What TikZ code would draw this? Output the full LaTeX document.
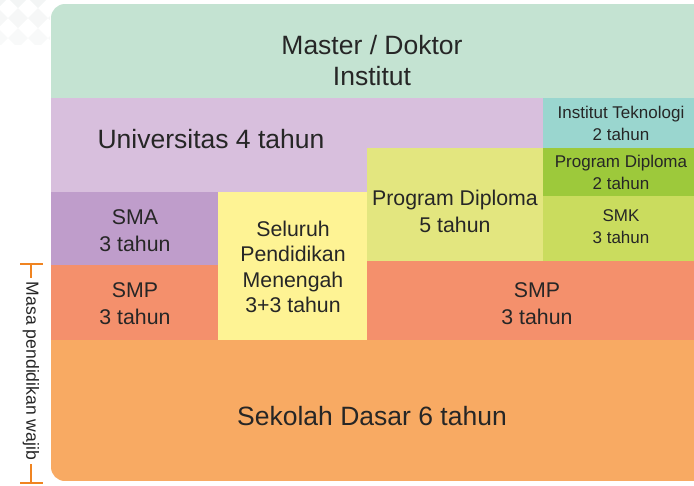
\documentclass[tikz,border=0pt]{standalone}
\usepackage{fontspec}
\setmainfont{Liberation Sans}
\definecolor{textgray}{HTML}{262626}
\definecolor{cmint}{HTML}{C4E3D2}
\definecolor{clav}{HTML}{D8BFDD}
\definecolor{cteal}{HTML}{9AD6CF}
\definecolor{cpdgreen}{HTML}{9DC93B}
\definecolor{csmk}{HTML}{CADC5E}
\definecolor{cpdfive}{HTML}{E3E67F}
\definecolor{csma}{HTML}{BF9DCB}
\definecolor{cyel}{HTML}{FEF394}
\definecolor{csmp}{HTML}{F4906C}
\definecolor{csd}{HTML}{F8AA63}
\definecolor{cbracket}{HTML}{F08421}
\definecolor{cdiam}{HTML}{F3F5F5}
\begin{document}
\begin{tikzpicture}[x=1pt,y=-1pt,
  txt/.style={text=textgray, align=center, inner sep=0pt},
  big/.style={font=\fontsize{26.5}{31}\selectfont},
  mid/.style={font=\fontsize{21.3}{27}\selectfont},
  midtight/.style={font=\fontsize{21.3}{25.5}\selectfont},
  small/.style={font=\fontsize{17}{22}\selectfont},
  bracket/.style={draw=cbracket, line width=2.5pt}]
\useasboundingbox (0,0) rectangle (694,485);
% faint diamond pattern
\begin{scope}
\clip (0,0) rectangle (50,44);
\foreach \a in {0,...,3} {
  \foreach \b in {0,...,3} {
    \fill[cdiam, fill opacity={1-0.22*\b}] (\a*20-2,\b*20-2) ++(-10,0) -- ++(10,-10) -- ++(10,10) -- ++(-10,10) -- cycle;
  }
}
\end{scope}
% main blocks
\begin{scope}
\clip[rounded corners=14pt] (51,4) rectangle (708,481);
\fill[cmint] (51,4) rectangle (708,98);
\fill[clav] (51,98) -- (543,98) -- (543,148) -- (367,148) -- (367,192) -- (51,192) -- cycle;
\fill[cteal] (543,98) rectangle (708,148);
\fill[cpdgreen] (543,148) rectangle (708,196);
\fill[csmk] (543,196) rectangle (708,261);
\fill[cpdfive] (367,148) rectangle (543,261);
\fill[csma] (51,192) rectangle (218,265);
\fill[cyel] (218,192) rectangle (367,340);
\fill[csmp] (51,265) rectangle (218,340);
\fill[csmp] (367,261) rectangle (708,340);
\fill[csd] (51,340) rectangle (708,481);
\end{scope}
% texts
\node[txt,big] (master) at (372,61) {Master / Doktor\\Institut};
\node[txt,big] (univ) at (211,139) {Universitas 4 tahun};
\node[txt,small] (it) at (621,123) {Institut Teknologi\\2 tahun};
\node[txt,small] (pdtwo) at (621,172) {Program Diploma\\2 tahun};
\node[txt,small] (smk) at (621,227) {SMK\\3 tahun};
\node[txt,mid] (pdfive) at (455,211) {Program Diploma\\5 tahun};
\node[txt,mid] (sma) at (135,231) {SMA\\3 tahun};
\node[txt,midtight] (seluruh) at (293,267) {Seluruh\\Pendidikan\\Menengah\\3+3 tahun};
\node[txt,mid] (smpl) at (135,304) {SMP\\3 tahun};
\node[txt,mid] (smpr) at (537,304) {SMP\\3 tahun};
\node[txt,big] (sd) at (372,416) {Sekolah Dasar 6 tahun};
% bracket
\node[text=textgray, rotate=-90, inner sep=4pt, font=\fontsize{17.6}{20}\selectfont] (wajib) at (31,371) {Masa pendidikan wajib};
\coordinate (btop) at (31,264);
\coordinate (bbot) at (31,483);
\draw[bracket] (20,264) -- (43,264);
\draw[bracket] (20,483) -- (43,483);
\draw[bracket] (btop) -- (wajib.west);
\draw[bracket] (wajib.east) -- (bbot);
\end{tikzpicture}
\end{document}
